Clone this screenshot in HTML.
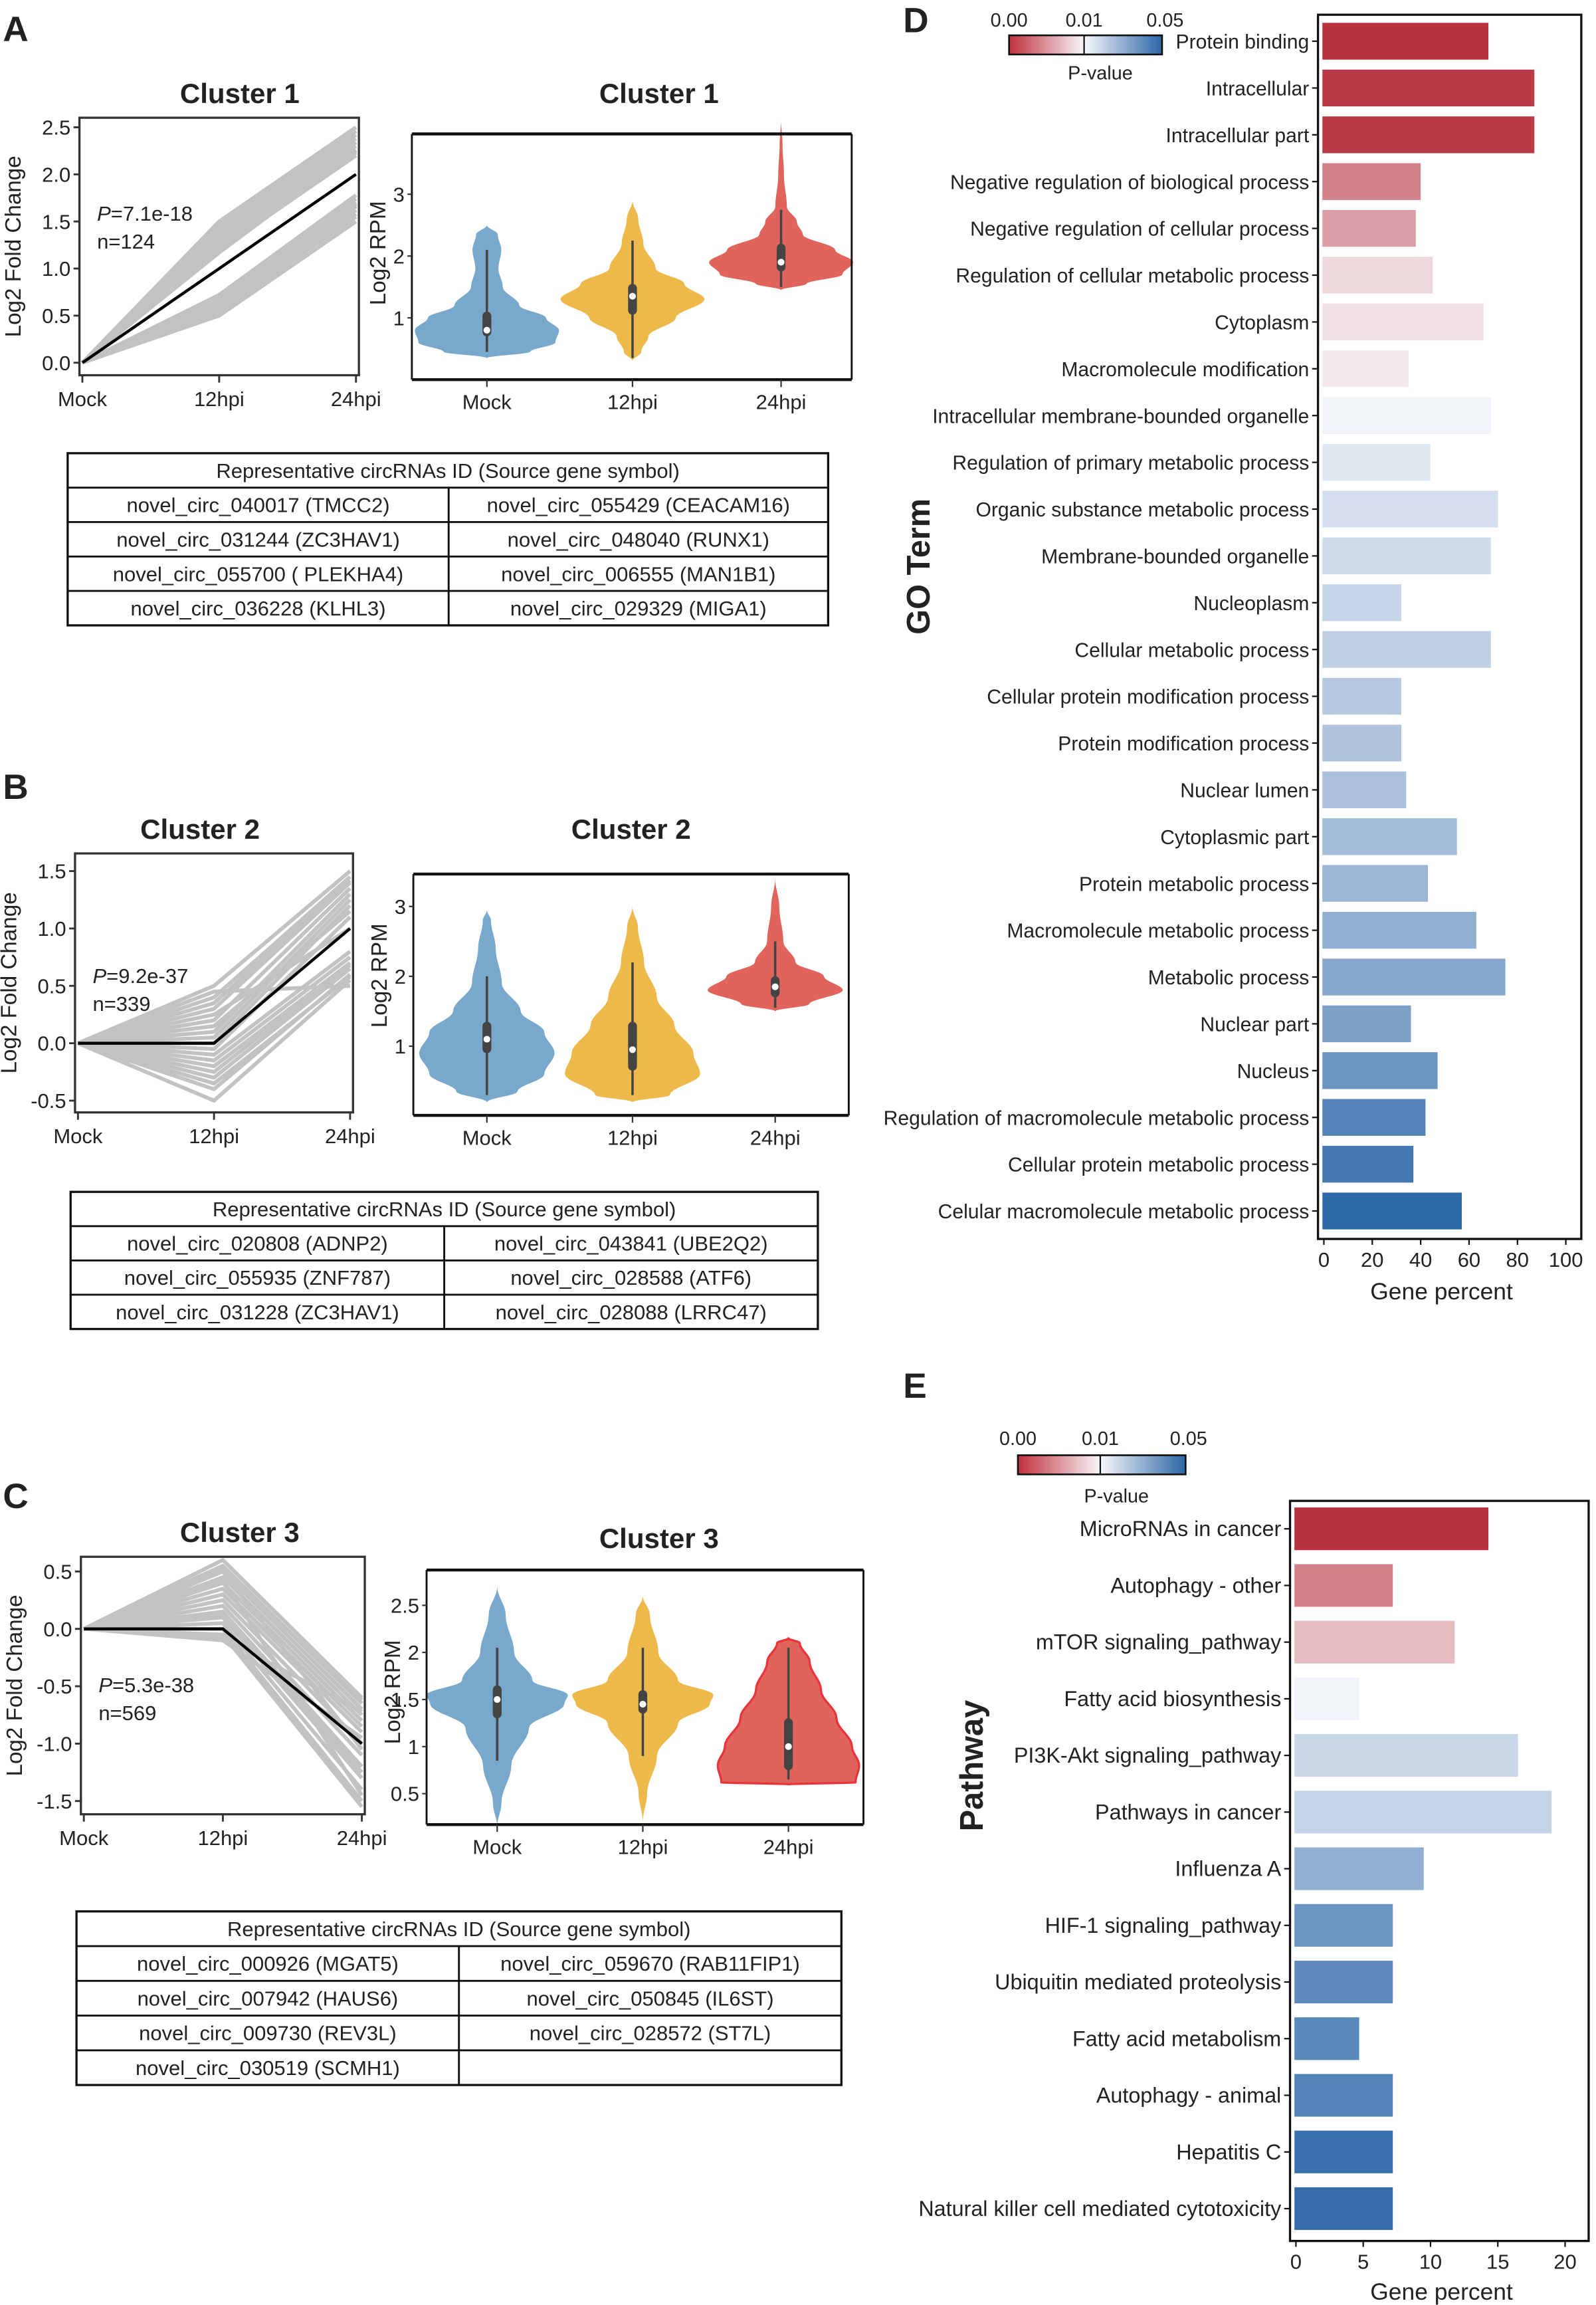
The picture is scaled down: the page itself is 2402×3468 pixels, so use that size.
<!DOCTYPE html>
<html><head><meta charset="utf-8"><style>
html,body{margin:0;padding:0;background:#fff}
svg{display:block}
text{font-family:"Liberation Sans",Arial,sans-serif;fill:#222}
</style></head><body>
<svg id="fig" xmlns="http://www.w3.org/2000/svg" width="2402" height="3468" viewBox="0 0 1085 1566.5">
<rect width="1085" height="1566.5" fill="#fff"/>
</svg>
<script>
// ---------- DATA ----------
const lineTimes = ["Mock","12hpi","24hpi"];
const c1Gray12 = [1.5,1.47,1.44,1.41,1.38,1.35,1.32,1.28,1.24,1.2,1.17,0.72,0.68,0.64,0.6,0.56,0.52,0.5,0.55,0.62];
const c1Gray24 = [2.5,2.46,2.42,2.38,2.34,2.3,2.26,2.23,2.2,2.2,2.25,1.78,1.74,1.7,1.66,1.62,1.58,1.5,1.55,1.68];
const c1Black = [0,1.0,2.0];
const c2Gray12 = [0.5,0.4,0.3,0.2,0.1,0.05,0,-0.05,-0.1,-0.15,-0.2,-0.3,-0.4,-0.5,0.45,0.25,0.35,0.15,-0.25,-0.35];
const c2Gray24 = [1.5,1.45,1.4,1.35,1.3,1.25,1.2,1.1,0.8,0.75,0.7,0.65,0.6,0.55,0.5,1.0,1.42,1.15,0.68,0.58];
const c2Black = [0,0,1.0];
const c3Gray12 = [0.6,0.55,0.5,0.45,0.4,0.35,0.3,0.25,0.2,0.15,0.1,0.05,0,-0.05,-0.1,0.5,0.52,0.42,0.12,-0.08];
const c3Gray24 = [-0.6,-0.65,-0.7,-0.75,-0.8,-0.85,-0.9,-1.0,-1.1,-1.2,-1.3,-1.4,-1.5,-1.55,-0.95,-1.05,-0.62,-1.45,-1.25,-0.72];
const c3Black = [0,0,-1.0];
const violinGroups = ["Mock","12hpi","24hpi"];
const vA = [
 [[0.35,0],[0.45,0.6],[0.6,0.95],[0.8,1],[1.0,0.82],[1.2,0.45],[1.5,0.22],[1.8,0.16],[2.1,0.2],[2.35,0.15],[2.5,0]],
 [[0.3,0],[0.45,0.12],[0.7,0.22],[1.0,0.6],[1.3,1],[1.55,0.72],[1.8,0.32],[2.2,0.15],[2.6,0.08],[2.9,0]],
 [[1.45,0],[1.55,0.35],[1.7,0.85],[1.9,1],[2.1,0.75],[2.35,0.3],[2.55,0.22],[2.8,0.08],[3.3,0.04],[3.8,0.02],[4.2,0]]];
const bA = [[0.45,0.7,0.8,1.1,2.1],[0.35,1.05,1.35,1.55,2.25],[1.5,1.75,1.9,2.2,2.75]];
const vB = [
 [[0.2,0],[0.35,0.45],[0.6,0.85],[0.9,1],[1.2,0.85],[1.5,0.5],[1.9,0.22],[2.4,0.13],[2.8,0.06],[2.95,0]],
 [[0.2,0],[0.3,0.55],[0.6,1],[0.9,0.9],[1.3,0.62],[1.7,0.36],[2.2,0.17],[2.7,0.08],[3.0,0]],
 [[1.5,0],[1.6,0.5],[1.8,1],[2.0,0.72],[2.2,0.3],[2.5,0.12],[3.0,0.06],[3.4,0]]];
const bB = [[0.3,0.9,1.1,1.35,2.0],[0.3,0.65,0.95,1.35,2.2],[1.55,1.7,1.85,2.0,2.5]];
const vC = [
 [[0.15,0],[0.4,0.06],[0.8,0.2],[1.2,0.45],[1.45,0.95],[1.55,1],[1.7,0.5],[2.0,0.24],[2.4,0.12],[2.7,0]],
 [[0.2,0],[0.5,0.06],[0.9,0.2],[1.25,0.5],[1.45,0.95],[1.55,1],[1.7,0.5],[2.0,0.22],[2.4,0.1],[2.6,0]],
 [[0.6,0],[0.62,0.95],[0.8,1],[1.0,0.9],[1.3,0.68],[1.6,0.46],[1.9,0.3],[2.1,0.16],[2.15,0]]];
const bC = [[0.85,1.3,1.5,1.65,2.05],[0.9,1.35,1.45,1.6,2.05],[0.65,0.75,1.0,1.3,2.05]];
const goTerms = ["Protein binding","Intracellular","Intracellular part","Negative regulation of biological process","Negative regulation of cellular process","Regulation of cellular metabolic process","Cytoplasm","Macromolecule modification","Intracellular membrane-bounded organelle","Regulation of primary metabolic process","Organic substance metabolic process","Membrane-bounded organelle","Nucleoplasm","Cellular metabolic process","Cellular protein modification process","Protein modification process","Nuclear lumen","Cytoplasmic part","Protein metabolic process","Macromolecule metabolic process","Metabolic process","Nuclear part","Nucleus","Regulation of macromolecule metabolic process","Cellular protein metabolic process","Celular macromolecule metabolic process"];
const goValues = [68,87,87,40,38,45,66,35,69,44,72,69,32,69,32,32,34,55,43,63,75,36,47,42,37,57];
const goPvals = [0.0008,0.0012,0.0012,0.0045,0.0058,0.0085,0.009,0.0093,0.0115,0.0145,0.017,0.018,0.02,0.021,0.023,0.024,0.025,0.026,0.028,0.03,0.032,0.034,0.037,0.042,0.045,0.049];
const goTicks = [0,20,40,60,80,100];
const pwTerms = ["MicroRNAs in cancer","Autophagy - other","mTOR signaling_pathway","Fatty acid biosynthesis","PI3K-Akt signaling_pathway","Pathways in cancer","Influenza A","HIF-1 signaling_pathway","Ubiquitin mediated proteolysis","Fatty acid metabolism","Autophagy - animal","Hepatitis C","Natural killer cell mediated cytotoxicity"];
const pwValues = [14.3,7.2,11.8,4.7,16.5,19,9.5,7.2,7.2,4.7,7.2,7.2,7.2];
const pwPvals = [0.0008,0.0045,0.0072,0.0115,0.019,0.02,0.03,0.037,0.04,0.041,0.042,0.047,0.048];
const pwTicks = [0,5,10,15,20];

// ---------- helpers ----------
const NS="http://www.w3.org/2000/svg";
const svg=document.getElementById('fig');
function mk(tag,attrs,parent){const e=document.createElementNS(NS,tag);for(const k in attrs)e.setAttribute(k,attrs[k]);(parent||svg).appendChild(e);return e;}
function txt(s,x,y,size,opts,parent){const o=Object.assign({x:x,y:y,'font-size':size},opts||{});const t=mk('text',o,parent);t.textContent=s;return t;}
function lerp(a,b,t){return a+(b-a)*t;}
function hex(c){return [parseInt(c.slice(1,3),16),parseInt(c.slice(3,5),16),parseInt(c.slice(5,7),16)];}
function mix(c1,c2,t){const a=hex(c1),b=hex(c2);return 'rgb('+a.map((v,i)=>Math.round(lerp(v,b[i],t))).join(',')+')';}
function pcol(p){ if(p<=0.01) return mix('#b2202f','#f8f8fb',p/0.01); return mix('#f8f8fb','#2a66a6',(p-0.01)/0.04); }
// smooth a density profile with cosine interpolation (rendering only)
function smooth(d){const out=[];for(let i=0;i<d.length-1;i++){for(let k=0;k<8;k++){const t=k/8,c=(1-Math.cos(t*Math.PI))/2;out.push([lerp(d[i][0],d[i+1][0],t),lerp(d[i][1],d[i+1][1],c)]);}}out.push(d[d.length-1]);return out;}

[["A",2,28],["B",2,543],["C",2,1025],["D",614,22],["E",614,950]].forEach(l=>{
 const t=txt(l[0],l[1],l[2],24,{'font-weight':'bold',fill:'#000'});
 
 
});

// ---------- line charts ----------
function lineChart(cfg){
 const g=mk('g',{});
 
 
 const X=i=>lerp(cfg.x0,cfg.x1,i/2);
 const Y=v=>cfg.yZero-v*cfg.ppu;
 const t=txt(cfg.title,cfg.titleX,cfg.titleY,19,{'font-weight':'bold','text-anchor':'middle',fill:'#111'},g);
 
 
 for(let i=0;i<cfg.g12.length;i++){
  const p=mk('polyline',{points:[X(0)+','+Y(0),X(1)+','+Y(cfg.g12[i]),X(2)+','+Y(cfg.g24[i])].join(' '),fill:'none',stroke:'#c2c2c2','stroke-width':2.6,'stroke-linejoin':'round'},g);
  
  
 }
 const b=mk('polyline',{points:cfg.black.map((v,i)=>X(i)+','+Y(v)).join(' '),fill:'none',stroke:'#000','stroke-width':2},g);
 
 
 mk('rect',{x:cfg.x0-2,y:cfg.top,width:cfg.x1-cfg.x0+4,height:cfg.bottom-cfg.top,fill:'none',stroke:'#333','stroke-width':1.5},g);
 cfg.ticks.forEach(v=>{
  mk('line',{x1:cfg.x0-6,x2:cfg.x0-2,y1:Y(v),y2:Y(v),stroke:'#333','stroke-width':1.3},g);
  txt(v.toFixed(1),cfg.x0-8,Y(v)+5,14,{'text-anchor':'end',fill:'#444'},g);
 });
 lineTimes.forEach((s,i)=>{
  mk('line',{x1:X(i),x2:X(i),y1:cfg.bottom,y2:cfg.bottom+5,stroke:'#333','stroke-width':1.3},g);
  txt(s,X(i),cfg.bottom+21,14,{'text-anchor':'middle',fill:'#222'},g);
 });
 const yl=txt('Log2 Fold Change',0,0,15,{'text-anchor':'middle',transform:'translate('+(cfg.x0-42)+','+((cfg.top+cfg.bottom)/2)+') rotate(-90)'},g);
 
 
 const pt=mk('text',{x:cfg.x0+10,y:cfg.pY,'font-size':14},g);
 pt.innerHTML='<tspan font-style="italic">P</tspan>='+cfg.p;
 txt('n='+cfg.n,cfg.x0+10,cfg.pY+19,14,{},g);
}
lineChart({name:'cluster1-line-chart',title:'Cluster 1',titleX:163,titleY:70,x0:56,x1:242,top:80,bottom:255,yZero:246.5,ppu:64,ticks:[0,0.5,1,1.5,2,2.5],g12:c1Gray12,g24:c1Gray24,black:c1Black,p:'7.1e-18',n:124,pY:150});
lineChart({name:'cluster2-line-chart',title:'Cluster 2',titleX:136,titleY:570,x0:53,x1:238,top:580,bottom:756,yZero:709,ppu:78,ticks:[-0.5,0,0.5,1,1.5],g12:c2Gray12,g24:c2Gray24,black:c2Black,p:'9.2e-37',n:339,pY:668});
lineChart({name:'cluster3-line-chart',title:'Cluster 3',titleX:163,titleY:1048,x0:57,x1:246,top:1058,bottom:1233,yZero:1107,ppu:78,ticks:[-1.5,-1,-0.5,0,0.5],g12:c3Gray12,g24:c3Gray24,black:c3Black,p:'5.3e-38',n:569,pY:1150});

// ---------- violins ----------
const vColors=['#78a8cb','#ecb94a','#e0645c'];
function violinChart(cfg){
 const g=mk('g',{});
 
 
 const Y=v=>cfg.yRef-(v-cfg.vRef)*cfg.ppu;
 const t=txt(cfg.title,cfg.titleX,cfg.titleY,19,{'font-weight':'bold','text-anchor':'middle',fill:'#111'},g);
 
 
 cfg.dens.forEach((dd,i)=>{
  const d=smooth(dd);
  const cx=cfg.xs[i];
  const L=d.map(p=>(cx-p[1]*cfg.w)+','+Y(p[0]));
  const R=d.slice().reverse().map(p=>(cx+p[1]*cfg.w)+','+Y(p[0]));
  const v=mk('polygon',{points:L.concat(R).join(' '),fill:vColors[i],stroke:(cfg.redEdge&&i==2)?'#e8343a':'none','stroke-width':1.5,'stroke-linejoin':'round'},g);
  
  
  const b=cfg.box[i];
  mk('line',{x1:cx,x2:cx,y1:Y(b[0]),y2:Y(b[4]),stroke:'#444','stroke-width':1.6},g);
  mk('rect',{x:cx-3,y:Y(b[3]),width:6,height:Y(b[1])-Y(b[3]),rx:3,fill:'#444'},g);
  mk('circle',{cx:cx,cy:Y(b[2]),r:2.3,fill:'#fff'},g);
 });
 mk('line',{x1:cfg.x0,x2:cfg.x1,y1:cfg.top,y2:cfg.top,stroke:'#111','stroke-width':2},g);
 mk('line',{x1:cfg.x0,x2:cfg.x1,y1:cfg.bottom,y2:cfg.bottom,stroke:'#111','stroke-width':2},g);
 mk('line',{x1:cfg.x0,x2:cfg.x0,y1:cfg.top,y2:cfg.bottom,stroke:'#111','stroke-width':1.3},g);
 mk('line',{x1:cfg.x1,x2:cfg.x1,y1:cfg.top,y2:cfg.bottom,stroke:'#111','stroke-width':1.3},g);
 cfg.ticks.forEach(v=>{
  mk('line',{x1:cfg.x0-3,x2:cfg.x0,y1:Y(v),y2:Y(v),stroke:'#333'},g);
  txt(String(v),cfg.x0-5,Y(v)+5,14,{'text-anchor':'end'},g);
 });
 violinGroups.forEach((s,i)=>{
  mk('line',{x1:cfg.xs[i],x2:cfg.xs[i],y1:cfg.bottom,y2:cfg.bottom+5,stroke:'#333'},g);
  txt(s,cfg.xs[i],cfg.bottom+20,14,{'text-anchor':'middle'},g);
 });
 const yl=txt('Log2 RPM',0,0,15,{'text-anchor':'middle',transform:'translate('+(cfg.x0-18)+','+cfg.ylY+') rotate(-90)'},g);
 
 
}
violinChart({name:'cluster1-violin-chart',title:'Cluster 1',titleX:448,titleY:70,x0:280,x1:579,top:91,bottom:258,yRef:216,vRef:1,ppu:42,w:49,xs:[331,430,531],dens:vA,box:bA,ticks:[1,2,3],ylY:172});
violinChart({name:'cluster2-violin-chart',title:'Cluster 2',titleX:429,titleY:570,x0:281,x1:577,top:594,bottom:758,yRef:711,vRef:1,ppu:47.5,w:46,xs:[331,430,527],dens:vB,box:bB,ticks:[1,2,3],ylY:663});
violinChart({name:'cluster3-violin-chart',title:'Cluster 3',titleX:448,titleY:1052,x0:290,x1:587,top:1067,bottom:1240,yRef:1219,vRef:0.5,ppu:64,w:48,xs:[338,437,536],dens:vC,box:bC,ticks:[0.5,1,1.5,2,2.5],ylY:1150,redEdge:true});

// ---------- tables ----------
function table(name,x0,x1,xm,y0,rh,rows){
 const g=mk('g',{});
 
 
 const n=rows.length+1;
 mk('rect',{x:x0,y:y0,width:x1-x0,height:rh*n,fill:'none',stroke:'#111','stroke-width':1.5},g);
 txt('Representative circRNAs ID (Source gene symbol)',(x0+x1)/2,y0+rh/2+5,14,{'text-anchor':'middle'},g);
 rows.forEach((r,i)=>{
  const y=y0+rh*(i+1);
  mk('line',{x1:x0,x2:x1,y1:y,y2:y,stroke:'#111','stroke-width':1.3},g);
  txt(r[0],(x0+xm)/2,y+rh/2+5,14,{'text-anchor':'middle'},g);
  if(r[1]!==undefined) txt(r[1],(xm+x1)/2,y+rh/2+5,14,{'text-anchor':'middle'},g);
 });
 mk('line',{x1:xm,x2:xm,y1:y0+rh,y2:y0+rh*n,stroke:'#111','stroke-width':1.3},g);
}
table('cluster1-table',46,563,305,308,23.4,[["novel_circ_040017 (TMCC2)","novel_circ_055429 (CEACAM16)"],["novel_circ_031244 (ZC3HAV1)","novel_circ_048040 (RUNX1)"],["novel_circ_055700 ( PLEKHA4)","novel_circ_006555 (MAN1B1)"],["novel_circ_036228 (KLHL3)","novel_circ_029329 (MIGA1)"]]);
table('cluster2-table',48,556,302,810,23.3,[["novel_circ_020808 (ADNP2)","novel_circ_043841 (UBE2Q2)"],["novel_circ_055935 (ZNF787)","novel_circ_028588 (ATF6)"],["novel_circ_031228 (ZC3HAV1)","novel_circ_028088 (LRRC47)"]]);
table('cluster3-table',52,572,312,1299,23.6,[["novel_circ_000926 (MGAT5)","novel_circ_059670 (RAB11FIP1)"],["novel_circ_007942 (HAUS6)","novel_circ_050845 (IL6ST)"],["novel_circ_009730 (REV3L)","novel_circ_028572 (ST7L)"],["novel_circ_030519 (SCMH1)",""]]);

// ---------- bar charts ----------
function colorbar(name,x0,x1,xm,y,lblY,pvY){
 const g=mk('g',{});
 
 
 const gid=name+'-grad';
 const d=mk('defs',{},g);const lg=mk('linearGradient',{id:gid,x1:0,x2:1,y1:0,y2:0},d);
 const f=(xm-x0)/(x1-x0);
 mk('stop',{offset:0,'stop-color':'#c0303c'},lg);mk('stop',{offset:f,'stop-color':'#f8f8fb'},lg);mk('stop',{offset:1,'stop-color':'#2a66a6'},lg);
 mk('rect',{x:x0,y:y,width:x1-x0,height:13,fill:'url(#'+gid+')',stroke:'#111','stroke-width':1.2},g);
 mk('line',{x1:xm,x2:xm,y1:y,y2:y+13,stroke:'#111'},g);
 txt('0.00',x0,lblY,13,{'text-anchor':'middle'},g);
 txt('0.01',xm,lblY,13,{'text-anchor':'middle'},g);
 txt('0.05',x1+2,lblY,13,{'text-anchor':'middle'},g);
 txt('P-value',(x0+x1)/2+10,pvY,13,{'text-anchor':'middle'},g);
}
function barChart(cfg){
 const g=mk('g',{});
 
 
 const X=v=>cfg.xZero+v*cfg.ppu;
 const Yc=i=>cfg.yFirst+i*cfg.step;
 mk('rect',{x:cfg.bx0,y:cfg.by0,width:cfg.bx1-cfg.bx0,height:cfg.by1-cfg.by0,fill:'none',stroke:'#111','stroke-width':1.5},g);
 cfg.terms.forEach((s,i)=>{
  const r=mk('rect',{x:cfg.xZero-1,y:Yc(i)-cfg.bh/2,width:X(cfg.vals[i])-cfg.xZero+1,height:cfg.bh,fill:pcol(cfg.pv[i])},g);
  
  
  mk('line',{x1:cfg.bx0-4,x2:cfg.bx0,y1:Yc(i),y2:Yc(i),stroke:'#111'},g);
  txt(s,cfg.bx0-6,Yc(i)+5,cfg.fs,{'text-anchor':'end'},g);
 });
 cfg.ticks.forEach(v=>{
  mk('line',{x1:X(v),x2:X(v),y1:cfg.by1,y2:cfg.by1+4,stroke:'#111'},g);
  txt(String(v),X(v),cfg.by1+19,14,{'text-anchor':'middle'},g);
 });
 const xl=txt('Gene percent',980,cfg.xlY,16,{'text-anchor':'middle',fill:'#444'},g);
 
 
 const yl=txt(cfg.ytitle,0,0,22,{'font-weight':'bold','text-anchor':'middle',fill:'#333',transform:'translate('+cfg.ytX+','+cfg.ytY+') rotate(-90)'},g);
 
 
}
colorbar('go-pvalue-legend',686,790,737,24,18,54);
barChart({name:'go-term-bar-chart',terms:goTerms,vals:goValues,pv:goPvals,ticks:goTicks,xZero:900,ppu:1.645,yFirst:28,step:31.8,bh:25,bx0:896,bx1:1075,by0:10,by1:842,fs:13.6,xlY:883,ytitle:'GO Term',ytX:632,ytY:385});
colorbar('pathway-pvalue-legend',692,806,748,989,982,1021);
barChart({name:'pathway-bar-chart',terms:pwTerms,vals:pwValues,pv:pwPvals,ticks:pwTicks,xZero:881,ppu:9.15,yFirst:1039,step:38.5,bh:29,bx0:877,bx1:1080,by0:1020,by1:1523,fs:14.6,xlY:1563,ytitle:'Pathway',ytX:668,ytY:1200});
</script>
</body></html>
